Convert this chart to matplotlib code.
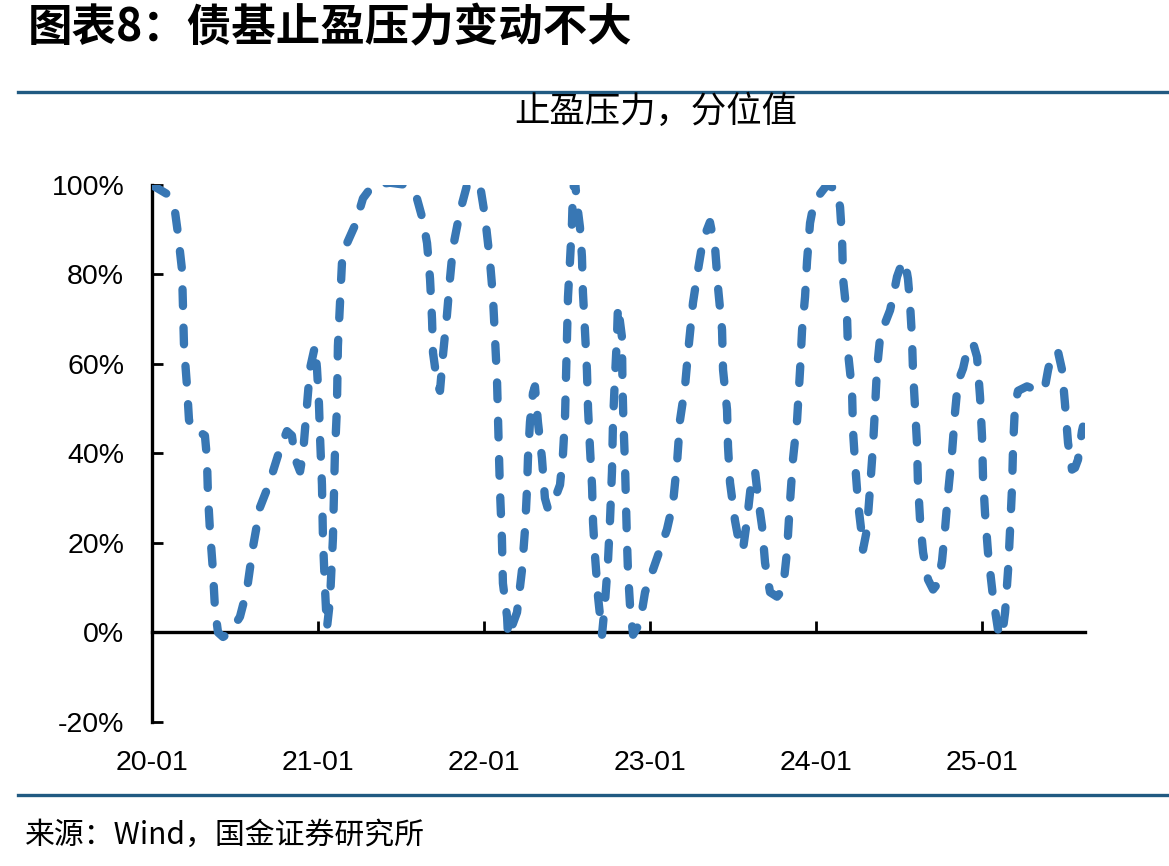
import matplotlib
matplotlib.use("Agg")
import matplotlib.pyplot as plt
from matplotlib.lines import Line2D
from matplotlib.ticker import FuncFormatter

plt.rcParams['font.family'] = ['Noto Sans CJK SC', 'DejaVu Sans']

# years since 2020-01
t = [0.000, 0.090, 0.139, 0.157, 0.169, 0.181, 0.187, 0.193, 0.211, 0.223,
     0.247, 0.277, 0.319, 0.331, 0.337, 0.349, 0.367, 0.380, 0.398, 0.428,
     0.470, 0.530, 0.572, 0.608, 0.651, 0.693, 0.729, 0.771, 0.813, 0.843,
     0.861, 0.892, 0.910, 0.934, 0.952, 0.982, 0.994, 1.006, 1.012, 1.024,
     1.030, 1.042, 1.054, 1.072, 1.084, 1.090, 1.096, 1.102, 1.114, 1.120,
     1.133, 1.145, 1.175, 1.223, 1.271, 1.331, 1.434, 1.536, 1.596, 1.633,
     1.657, 1.675, 1.687, 1.693, 1.717, 1.735, 1.753, 1.777, 1.795, 1.813,
     1.855, 1.898, 1.976, 2.006, 2.036, 2.054, 2.066, 2.078, 2.084, 2.090,
     2.096, 2.108, 2.114, 2.139, 2.145, 2.199, 2.229, 2.247, 2.259, 2.265,
     2.277, 2.295, 2.307, 2.325, 2.349, 2.367, 2.386, 2.428, 2.458, 2.476,
     2.488, 2.494, 2.500, 2.506, 2.518, 2.530, 2.536, 2.548, 2.560, 2.578,
     2.590, 2.596, 2.608, 2.620, 2.627, 2.639, 2.651, 2.657, 2.669, 2.687,
     2.711, 2.729, 2.747, 2.759, 2.771, 2.777, 2.789, 2.801, 2.807, 2.831,
     2.834, 2.840, 2.849, 2.855, 2.861, 2.867, 2.880, 2.898, 2.940, 2.970,
     3.018, 3.060, 3.102, 3.139, 3.163, 3.181, 3.211, 3.229, 3.259, 3.289,
     3.319, 3.361, 3.392, 3.410, 3.434, 3.440, 3.464, 3.470, 3.482, 3.512,
     3.542, 3.560, 3.584, 3.614, 3.633, 3.651, 3.675, 3.693, 3.723, 3.765,
     3.801, 3.825, 3.843, 3.861, 3.886, 3.904, 3.916, 3.934, 3.946, 3.964,
     3.982, 4.024, 4.066, 4.127, 4.145, 4.157, 4.163, 4.187, 4.193, 4.217,
     4.223, 4.235, 4.253, 4.277, 4.283, 4.307, 4.325, 4.343, 4.355, 4.367,
     4.386, 4.404, 4.446, 4.464, 4.488, 4.518, 4.536, 4.554, 4.566, 4.578,
     4.584, 4.596, 4.608, 4.614, 4.627, 4.645, 4.675, 4.705, 4.735, 4.759,
     4.777, 4.795, 4.819, 4.837, 4.855, 4.886, 4.910, 4.946, 4.970, 4.988,
     5.000, 5.006, 5.018, 5.036, 5.066, 5.096, 5.120, 5.139, 5.157, 5.169,
     5.181, 5.187, 5.199, 5.217, 5.271, 5.349, 5.380, 5.398, 5.422, 5.458,
     5.482, 5.500, 5.518, 5.542, 5.560, 5.578, 5.602, 5.608]

# 止盈压力分位值 (%)
pressure = [100, 98, 94, 89, 85, 81, 72, 64, 55, 47.5,
            45, 45, 44, 39, 31, 23, 14, 5, 0, -1,
            0, 3.5, 9.5, 19, 28, 32, 36, 41, 45, 44,
            39, 36, 40, 51, 59, 64, 59, 51, 44, 33,
            21, 10, 1, 7, 16, 21, 30, 40, 50, 64,
            74, 83, 87, 91, 97, 100, 100.5, 100, 97, 92,
            87, 79, 70, 62.5, 56, 54, 62, 71, 79, 86,
            94, 100, 100, 93, 83, 75, 66, 57, 48, 40,
            32, 21, 11, 3.5, -1, 4.5, 14, 23, 32, 39,
            47, 53.5, 55, 47, 39, 30, 27.5, 30, 33, 40,
            48, 57, 66, 75, 83, 91.5, 99, 101, 96, 90.6,
            84, 76, 67.6, 58.7, 49.8, 40.8, 32.6, 24.5, 17, 8,
            -0.5, 6.7, 16, 25, 36, 47, 57, 66, 73, 66,
            56, 47, 38, 29, 20.8, 14, 5.8, -0.5, 2.2, 9,
            14, 18.5, 23, 29, 38, 47.5, 55, 62.5, 73.7, 81,
            87.7, 91.7, 86, 77, 67.6, 58.7, 49.8, 41.5, 33.5, 25,
            19, 18.5, 25, 35, 36, 30, 23.7, 15.6, 9, 8,
            9.6, 18, 29, 38.6, 47.5, 58.7, 67.6, 75, 83, 91.5,
            95, 98, 100, 99, 95, 88, 79, 70.5, 62.5, 54,
            45, 38, 29, 21.4, 18.5, 23, 32, 41.5, 49.8, 58.7,
            66, 68, 72, 75, 79.5, 82.6, 83, 79, 73.7, 66,
            58.7, 50.4, 42.4, 33.5, 25, 17.9, 11.8, 9.6, 11, 16,
            23, 31, 40, 49, 56, 59, 63, 64.7, 61.6, 52.7,
            43.8, 34.8, 26.8, 17.9, 8, 0.7, -1, 4.5, 14, 23,
            32.6, 41.5, 51, 54, 55, 53.8, 55, 58.7, 62.5, 62.7,
            58.7, 51, 42.4, 36.4, 36.8, 38.6, 45, 46]

xtick_pos = [0, 1, 2, 3, 4, 5]
xtick_labels = ['20-01', '21-01', '22-01', '23-01', '24-01', '25-01']
yticks = [-20, 0, 20, 40, 60, 80, 100]

title = '图表8：债基止盈压力变动不大'
series_name = '止盈压力，分位值'
source = '来源：Wind，国金证券研究所'

line_color = '#3877B4'
rule_color = '#215A82'

fig = plt.figure(figsize=(11.69, 8.66), dpi=100)
ax = fig.add_axes([0.1300, 0.1663, 0.7981, 0.6201])

# zero line with ticks pointing up (drawn under the series)
sec = ax.secondary_xaxis(1 / 6)
sec.set_xticks(xtick_pos)
sec.tick_params(axis='x', direction='in', length=8, width=2, labelbottom=False, labeltop=False)
sec.spines['bottom'].set_linewidth(2.4)

ax.plot(t, pressure, color=line_color, lw=6, linestyle=(0, (2.0, 2.6)),
        dash_capstyle='round', solid_capstyle='round', zorder=3)

ax.set_xlim(0, 5.62)
ax.set_ylim(-20, 100)
ax.set_xticks(xtick_pos)
ax.set_xticklabels(xtick_labels, fontfamily='Liberation Sans', fontsize=20.5)
ax.set_yticks(yticks)
ax.yaxis.set_major_formatter(FuncFormatter(lambda v, p: f'{v:.0f}%'))
for lab in ax.get_yticklabels():
    lab.set_fontfamily('Liberation Sans')
    lab.set_fontsize(20.5)
ax.tick_params(axis='x', length=0, pad=20)
ax.tick_params(axis='y', direction='in', length=8, width=2, pad=20)

for s in ['top', 'right', 'bottom']:
    ax.spines[s].set_visible(False)
ax.spines['left'].set_linewidth(2.4)

# header / footer
fig.text(0.024, 0.9677, title, fontsize=32, fontweight='bold', va='center', ha='left')
fig.add_artist(Line2D([0.0154, 1.0], [0.8938, 0.8938], color=rule_color, lw=2.4))
fig.text(0.561, 0.8707, series_name, fontsize=25.5, va='center', ha='center')
fig.add_artist(Line2D([0.0154, 1.0], [0.0820, 0.0820], color=rule_color, lw=2.4))
fig.text(0.0214, 0.0358, source, fontsize=21.5, va='center', ha='left')

fig.savefig('out.png', dpi=100)
